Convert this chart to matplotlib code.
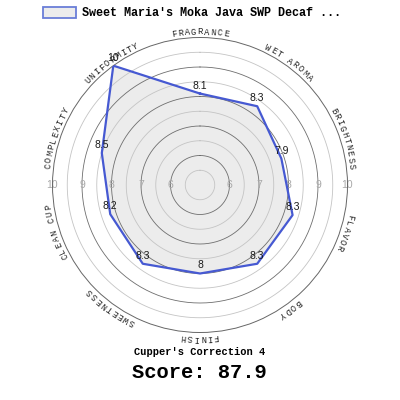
import matplotlib
matplotlib.use("Agg")
import matplotlib.pyplot as plt
import numpy as np
from matplotlib.patches import Patch

## DATA
categories = ["FRAGRANCE", "WET AROMA", "BRIGHTNESS", "FLAVOR", "BODY",
              "FINISH", "SWEETNESS", "CLEAN CUP", "COMPLEXITY", "UNIFORMITY"]
scores = [8.1, 8.3, 7.9, 8.3, 8.3, 8, 8.3, 8.2, 8.5, 10]
score_labels = ["8.1", "8.3", "7.9", "8.3", "8.3", "8", "8.3", "8.2", "8.5", "10"]
coffee_name = "Sweet Maria's Moka Java SWP Decaf ..."
correction_text = "Cupper's Correction 4"
total_text = "Score: 87.9"
ring_levels = [5.5, 6, 6.5, 7, 7.5, 8, 8.5, 9, 9.5]
tick_values = [6, 7, 8, 9, 10]

## STYLE
LINE_BLUE = "#4659d2"
LEGEND_EDGE = "#6a7ed8"
FILL_GRAY = "#ececec"
R_MIN, R_MAX = 5, 10
RADIUS_PX = 147.5
MONO = "Liberation Mono"

fig = plt.figure(figsize=(4, 4), dpi=100)
ax = fig.add_axes([(200 - RADIUS_PX) / 400, (400 - 185 - RADIUS_PX) / 400,
                   2 * RADIUS_PX / 400, 2 * RADIUS_PX / 400], projection="polar")
ax.set_theta_zero_location("N")
ax.set_theta_direction(-1)
ax.set_ylim(R_MIN, R_MAX)
ax.set_facecolor("white")
ax.grid(False)
ax.set_xticks([])
ax.set_yticks([])
ax.spines["polar"].set_color("#666666")
ax.spines["polar"].set_linewidth(0.7)

angles = np.linspace(0, 2 * np.pi, len(categories), endpoint=False)

# grid rings: whole numbers darker, halves lighter
full_circle = np.linspace(0, 2 * np.pi, 361)
for lvl in ring_levels:
    col = "#6e6e6e" if float(lvl).is_integer() else "#c4c4c4"
    ax.plot(full_circle, [lvl] * len(full_circle), color=col, lw=0.6, zorder=1)

# the score polygon
th = np.append(angles, angles[0])
vals = np.append(scores, scores[0])
ax.fill(th, vals, facecolor=FILL_GRAY, edgecolor="none", zorder=0.5)
ax.plot(th, vals, color=LINE_BLUE, lw=1.6, zorder=3)

# radial tick labels on both sides
for v in tick_values:
    for a in (np.pi / 2, 3 * np.pi / 2):
        ax.text(a, v, str(v), color="#a8a8a8", fontsize=7.5, ha="center",
                va="center", family="Liberation Sans", zorder=2)

# value labels just above each point
for a, v, lab in zip(angles, scores, score_labels):
    ax.annotate(lab, (a, v), xytext=(0, 8), textcoords="offset pixels",
                ha="center", va="center", fontsize=7.5, color="#1a1a1a",
                family="Liberation Sans", zorder=4)

# curved category labels
text_r_px = 153
text_r = R_MIN + (R_MAX - R_MIN) * text_r_px / RADIUS_PX
step = 6.5 / text_r_px
for a, name in zip(angles, categories):
    n = len(name)
    for i, ch in enumerate(name):
        t = a + (i - (n - 1) / 2) * step
        ax.text(t, text_r, ch, rotation=-np.degrees(t), rotation_mode="anchor",
                ha="center", va="center", fontsize=6.3, family=MONO,
                color="#222222", clip_on=False)

# legend and score texts
handle = Patch(facecolor=FILL_GRAY, edgecolor=LEGEND_EDGE, lw=1.3)
fig.legend([handle], [coffee_name], loc="upper center",
           bbox_to_anchor=(0.48, 1.01), frameon=False,
           prop={"family": MONO, "weight": "bold", "size": 8.5},
           handlelength=2.8, handleheight=1.1, handletextpad=0.5)
fig.text(0.499, 1 - 352 / 400, correction_text, ha="center", va="center",
         family=MONO, weight="bold", fontsize=7.5)
fig.text(0.499, 1 - 373 / 400, total_text, ha="center", va="center",
         family=MONO, weight="bold", fontsize=14.8)

fig.savefig("out.png", dpi=100)
